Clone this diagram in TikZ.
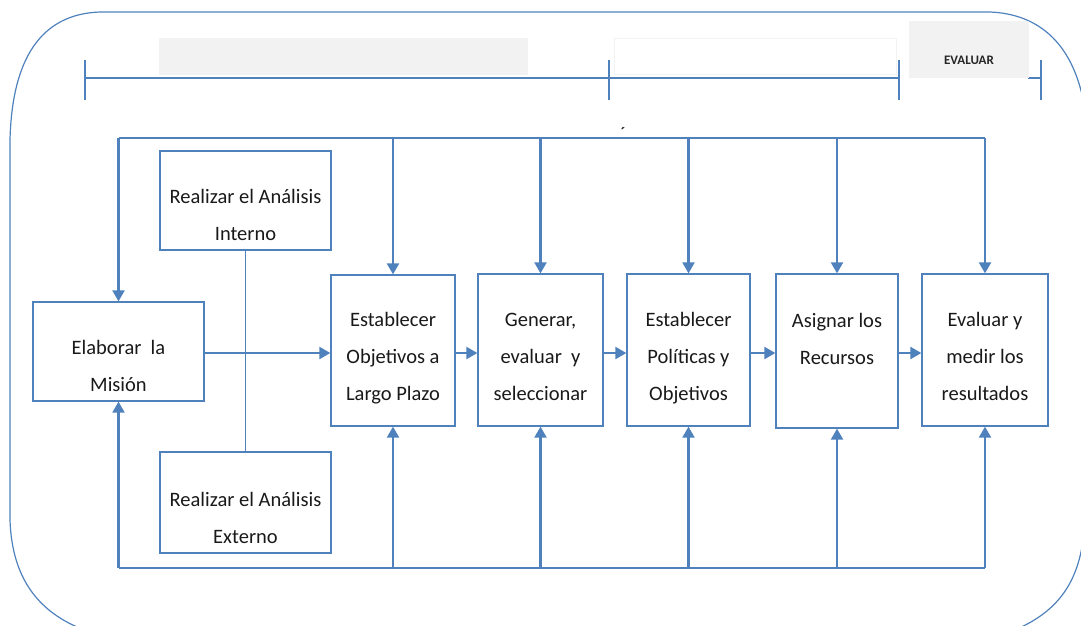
\documentclass[tikz,border=0pt]{standalone}
\usepackage{fontspec}
\setmainfont{Carlito}
\usetikzlibrary{arrows.meta}
\definecolor{lineblue}{RGB}{79,129,189}
\definecolor{headgray}{RGB}{242,242,242}
\tikzset{
  box/.style={draw=lineblue, line width=1.3pt, inner sep=0pt},
  txt/.style={align=center, inner sep=0pt, text=black!90,
    font=\fontsize{20.5}{37}\selectfont},
  link/.style={draw=lineblue, line width=2.2pt},
  arr/.style={link, -{Triangle[length=11pt,width=12pt]}},
  thin link/.style={draw=lineblue, line width=1.5pt}
}
\begin{document}
\begin{tikzpicture}[x=1pt,y=-1pt]
\useasboundingbox (0,0) rectangle (1081,625);
\clip (0,0) rectangle (1081,625);
% outer frame
\draw[thin link, line width=1.2pt] (100,12) -- (990,12) .. controls (1040,14) and (1075,45) .. (1085,110)
  -- (1085,520) .. controls (1082,580) and (1060,612) .. (1010,632)
  -- (90,632) .. controls (40,615) and (12,580) .. (10,520)
  -- (10,140) .. controls (12,60) and (40,14) .. (100,12) -- cycle;
% header bar
\node[fill=headgray, minimum width=369pt, minimum height=37pt, inner sep=0pt] (phase1) at (343.5,56.5) {};
\node[draw=headgray, fill=white, minimum width=282pt, minimum height=36pt, inner sep=0pt] (phase2) at (755,56) {};
\coordinate (t0) at (85,78);
\coordinate (t1) at (609,78);
\coordinate (t2) at (899,78);
\coordinate (t3) at (1041,78);
\draw[thin link] (t0) -- (t2);
\draw[thin link] (1028,78) -- (t3);
\foreach \t in {t0,t1,t2,t3}
  \draw[thin link] ([yshift=-22pt]\t) -- ([yshift=18pt]\t);
\node[fill=headgray, minimum width=120pt, minimum height=57pt, inner sep=0pt] (phase3) at (969,49.5) {};
\node[font=\fontsize{13}{14}\selectfont\bfseries, text=black!85, inner sep=0pt] (evaluar) at (969,60) {EVALUAR};
\node[font=\fontsize{16}{18}\selectfont\bfseries, text=black!80, inner sep=0pt] (mark) at (623,133) {´};
% boxes
\node[box, minimum width=171pt, minimum height=99pt] (mision) at (118.5,351.5) {};
\node[box, minimum width=171pt, minimum height=99pt] (interno) at (245.5,200.5) {};
\node[box, minimum width=171pt, minimum height=101pt] (externo) at (245.5,502.5) {};
\node[box, minimum width=124pt, minimum height=151pt] (objetivos) at (393,350.5) {};
\node[box, minimum width=125pt, minimum height=152pt] (generar) at (540.5,350) {};
\node[box, minimum width=123pt, minimum height=152pt] (politicas) at (688.5,350) {};
\node[box, minimum width=122pt, minimum height=154pt] (recursos) at (837,351) {};
\node[box, minimum width=126pt, minimum height=152pt] (resultados) at (985,350) {};
% texts
\node[txt] (mision-t) at ([yshift=-14pt]mision.center) {Elaborar~ la\\Misión};
\node[txt] (interno-t) at ([yshift=-14pt]interno.center) {Realizar el Análisis\\Interno};
\node[txt] (externo-t) at ([yshift=-15pt]externo.center) {Realizar el Análisis\\Externo};
\node[txt] (objetivos-t) at ([yshift=-8pt]objetivos.center) {Establecer\\Objetivos a\\Largo Plazo};
\node[txt] (generar-t) at ([yshift=-7pt]generar.center) {Generar,\\evaluar~ y\\seleccionar};
\node[txt] (politicas-t) at ([yshift=-8pt]politicas.center) {Establecer\\Políticas y\\Objetivos};
\node[txt] (recursos-t) at ([yshift=12pt]recursos.center) {Asignar los\\Recursos};
\node[txt] (resultados-t) at ([yshift=-6pt]resultados.center) {Evaluar y\\medir los\\resultados};
% connectors
\coordinate (topY) at (0,138);
\coordinate (botY) at (0,568);
\coordinate (flowY) at (0,353);
\draw[link] (mision.north |- topY) -- (resultados.north |- topY);
\draw[link] (mision.south |- botY) -- (resultados.south |- botY);
\foreach \n in {mision,objetivos,generar,politicas,recursos,resultados}{
  \draw[arr] (\n.north |- topY) -- (\n.north);
  \draw[arr] (\n.south |- botY) -- (\n.south);
}
\draw[thin link] (interno.south) -- (externo.north);
\draw[arr] (mision.east |- flowY) -- (objetivos.west |- flowY);
\draw[arr] (objetivos.east |- flowY) -- (generar.west |- flowY);
\draw[arr] (generar.east |- flowY) -- (politicas.west |- flowY);
\draw[arr] (politicas.east |- flowY) -- (recursos.west |- flowY);
\draw[arr] (recursos.east |- flowY) -- (resultados.west |- flowY);
\end{tikzpicture}
\end{document}
